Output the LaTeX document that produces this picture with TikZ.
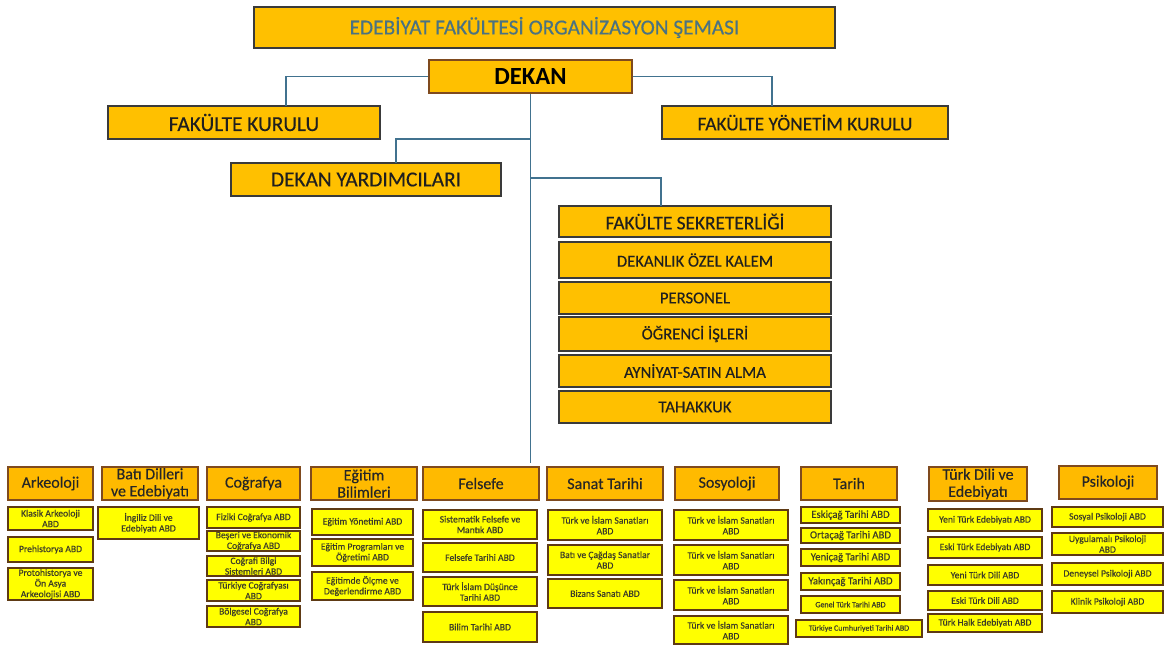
\documentclass[tikz,border=0pt]{standalone}
\usepackage{fontspec}
\setmainfont{Carlito}[FakeBold=0.35, BoldFeatures={FakeBold=0}]
\definecolor{gold}{HTML}{FFC000}
\definecolor{hgold}{HTML}{FFBA00}
\definecolor{yel}{HTML}{FFFF00}
\definecolor{boxgray}{HTML}{3A3A3A}
\definecolor{hbrown}{HTML}{7F4A1E}
\definecolor{ybrown}{HTML}{5E3A14}
\definecolor{linkblue}{HTML}{41728F}
\definecolor{titletext}{HTML}{4A7282}
\definecolor{ytext}{HTML}{3C3C28}
\tikzset{
  cell/.style n args={4}{at={({(#1+#3)/2},{(#2+#4)/2})},
    minimum width={(#3-#1)*0.75pt}, minimum height={(#4-#2)*0.75pt}},
  topbox/.style={draw=boxgray, fill=gold, line width=1.1pt, inner sep=0pt,
    align=center, text=black!88, font=\fontsize{16}{18}\selectfont},
  subbox/.style={topbox, font=\fontsize{12.5}{14}\selectfont},
  dept/.style={draw=hbrown, fill=hgold, line width=1.1pt, inner sep=0pt,
    align=center, text=black!85, font=\fontsize{12}{12.8}\selectfont},
  abd/.style={draw=ybrown, fill=yel, line width=1.3pt, inner sep=0pt,
    align=center, text=ytext, font=\fontsize{7.2}{8}\selectfont},
  link/.style={draw=linkblue, line width=1.2pt}
}
\begin{document}
\begin{tikzpicture}[x=0.75pt, y=-0.75pt]
    \useasboundingbox (0,0) rectangle (1165,644);

    % top of the chart
    \node[topbox, cell={254}{7}{835}{48}, text=titletext] (title) {EDEBİYAT FAKÜLTESİ ORGANİZASYON ŞEMASI};
    \node[topbox, cell={429}{60}{632}{93}, draw=hbrown, font=\fontsize{18.5}{20}\selectfont\bfseries, text=black] (dekan) {DEKAN};
    \node[topbox, cell={108}{106}{380}{139}] (fk) {FAKÜLTE KURULU};
    \node[topbox, cell={662}{106}{948}{139}, font=\fontsize{14.5}{16}\selectfont] (fyk) {FAKÜLTE YÖNETİM KURULU};
    \node[topbox, cell={231}{163}{501}{196}] (dy) {DEKAN YARDIMCILARI};

    % secretariat
    \node[topbox, cell={559}{206}{831}{237}, font=\fontsize{14.5}{16}\selectfont] (sek) {FAKÜLTE SEKRETERLİĞİ};
    \node[subbox, cell={559}{242}{831}{278}] (ozel) {DEKANLIK ÖZEL KALEM};
    \node[subbox, cell={559}{282}{831}{314}] (pers) {PERSONEL};
    \node[subbox, cell={559}{317}{831}{351}] (ogr) {ÖĞRENCİ İŞLERİ};
    \node[subbox, cell={559}{355}{831}{387}] (ayn) {AYNİYAT-SATIN ALMA};
    \node[subbox, cell={559}{391}{831}{423}] (tah) {TAHAKKUK};

    % connectors
    \coordinate (fkin) at (286,106);
    \coordinate (fykin) at (772,106);
    \coordinate (dyin) at (396,163);
    \coordinate (sekin) at (661,206);
    \coordinate (j1) at (530.5,139);
    \coordinate (j2) at (530.5,178);
    \coordinate (bot) at (530.5,463);
    \draw[link] (dekan.west) -| (fkin);
    \draw[link] (dekan.east) -| (fykin);
    \draw[link] (dekan.south) -- (bot);
    \draw[link] (j1) -| (dyin);
    \draw[link] (j2) -| (sekin);

    % departments
    \node[dept, cell={8}{467}{93}{500}] (ark) {Arkeoloji};
    \node[dept, cell={102}{467}{198}{500}] (bati) {Batı Dilleri\\ve Edebiyatı};
    \node[dept, cell={207}{467}{300}{500}] (cog) {Coğrafya};
    \node[dept, cell={311}{467}{417}{500}] (egt) {Eğitim\\Bilimleri};
    \node[dept, cell={423}{467}{539}{500}] (fel) {Felsefe};
    \node[dept, cell={547}{467}{663}{500}] (san) {Sanat Tarihi};
    \node[dept, cell={675}{467}{779}{500}] (sos) {Sosyoloji};
    \node[dept, cell={801}{467}{897}{500}] (tar) {Tarih};
    \node[dept, cell={929}{467}{1027}{501}] (tdl) {Türk Dili ve\\Edebiyatı};
    \node[dept, cell={1059}{466}{1157}{499}] (psi) {Psikoloji};

    % anabilim dallari
    \foreach \ya/\yb/\t [count=\i] in {507/530/Klasik Arkeoloji\\ABD, 537/562/Prehistorya ABD,
        568/600/Protohistorya ve\\Ön Asya\\Arkeolojisi ABD}
        \node[abd, cell={8}{\ya}{93}{\yb}] (ark\i) {\t};
    \node[abd, cell={98}{507}{199}{539}] (bati1) {İngiliz Dili ve\\Edebiyatı ABD};
    \foreach \ya/\yb/\t [count=\i] in {507/528/Fiziki Coğrafya ABD, 531/551/Beşeri ve Ekonomik\\Coğrafya ABD,
        556/576/Coğrafi Bilgi\\Sistemleri ABD, 580/601/Türkiye Coğrafyası\\ABD, 606/627/Bölgesel Coğrafya\\ABD}
        \node[abd, cell={207}{\ya}{300}{\yb}] (cog\i) {\t};
    \foreach \ya/\yb/\t [count=\i] in {509/535/Eğitim Yönetimi ABD, 539/566/Eğitim Programları ve\\Öğretimi ABD,
        572/600/Eğitimde Ölçme ve\\Değerlendirme ABD}
        \node[abd, cell={312}{\ya}{413}{\yb}] (egt\i) {\t};
    \foreach \ya/\yb/\t [count=\i] in {510/539/Sistematik Felsefe ve\\Mantık ABD, 543/572/Felsefe Tarihi ABD,
        577/606/Türk İslam Düşünce\\Tarihi ABD, 612/642/Bilim Tarihi ABD}
        \node[abd, cell={423}{\ya}{537}{\yb}] (fel\i) {\t};
    \foreach \ya/\yb/\t [count=\i] in {510/540/Türk ve İslam Sanatları\\ABD, 545/575/Batı ve Çağdaş Sanatlar\\ABD,
        579/608/Bizans Sanatı ABD}
        \node[abd, cell={548}{\ya}{662}{\yb}] (san\i) {\t};
    \foreach \ya/\yb [count=\i] in {510/540, 545/575, 580/610, 616/644}
        \node[abd, cell={674}{\ya}{788}{\yb}] (sos\i) {Türk ve İslam Sanatları\\ABD};
    \foreach \ya/\yb/\t [count=\i] in {507/523/Eskiçağ Tarihi ABD, 528/543/Ortaçağ Tarihi ABD,
        549/566/Yeniçağ Tarihi ABD, 573/590/Yakınçağ Tarihi ABD}
        \node[abd, cell={801}{\ya}{900}{\yb}, font=\fontsize{8}{9}\selectfont] (tar\i) {\t};
    \node[abd, cell={801}{596}{900}{613}, font=\fontsize{6}{7}\selectfont] (tar5) {Genel Türk Tarihi ABD};
    \node[abd, cell={796}{620}{922}{637}, font=\fontsize{6}{7}\selectfont] (tar6) {Türkiye Cumhuriyeti Tarihi ABD};
    \foreach \ya/\yb/\t [count=\i] in {509/531/Yeni Türk Edebiyatı ABD, 537/558/Eski Türk Edebiyatı ABD,
        565/585/Yeni Türk Dili ABD, 591/610/Eski Türk Dili ABD, 614/632/Türk Halk Edebiyatı ABD}
        \node[abd, cell={928}{\ya}{1042}{\yb}] (tdl\i) {\t};
    \foreach \ya/\yb/\t [count=\i] in {507/527/Sosyal Psikoloji ABD, 533/555/Uygulamalı Psikoloji\\ABD,
        563/585/Deneysel Psikoloji ABD, 591/613/Klinik Psikoloji ABD}
        \node[abd, cell={1052}{\ya}{1163}{\yb}] (psi\i) {\t};

\end{tikzpicture}
\end{document}
